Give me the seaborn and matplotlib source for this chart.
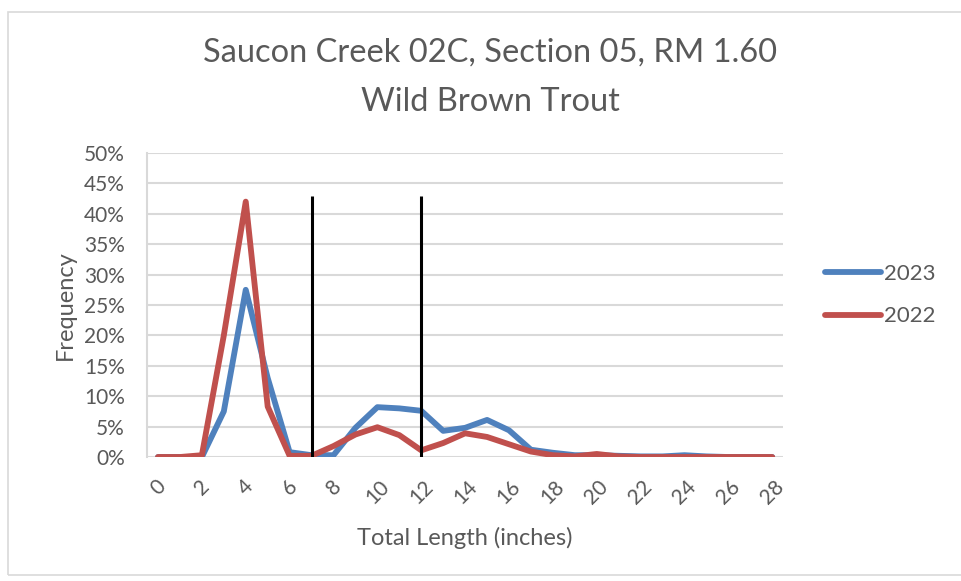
import numpy as np
import pandas as pd
import matplotlib
matplotlib.use('Agg')
import matplotlib.pyplot as plt
import seaborn as sns
from matplotlib.patches import Rectangle
from matplotlib.ticker import PercentFormatter

# Length classes (inches) and frequency per year
lengths = list(range(0, 29))
freq_2023 = [0.0, 0.0, 0.0, 7.5, 27.5, 13.0, 0.8, 0.3, 0.3, 4.8, 8.2, 8.0, 7.6, 4.3,
             4.8, 6.1, 4.4, 1.2, 0.7, 0.3, 0.3, 0.2, 0.1, 0.1, 0.3, 0.1, 0.0, 0.0, 0.0]
freq_2022 = [0.0, 0.0, 0.3, 20.0, 42.0, 8.3, 0.2, 0.2, 1.8, 3.7, 4.9, 3.6, 1.1, 2.3,
             3.9, 3.3, 2.1, 0.9, 0.3, 0.1, 0.5, 0.1, 0.0, 0.0, 0.0, 0.0, 0.0, 0.0, 0.0]
years = ['2023', '2022']
cutoffs = [7, 12]
cutoff_top = 43

df = pd.DataFrame({
    'Length': lengths * 2,
    'Frequency': freq_2023 + freq_2022,
    'Year': ['2023'] * len(lengths) + ['2022'] * len(lengths),
})

sns.set_theme(style='white')
plt.rcParams['font.family'] = ['Lato', 'DejaVu Sans']
grey = '#595959'

fig = plt.figure(figsize=(9.61, 5.81), dpi=100)
ax = fig.add_axes([0.153, 0.2134, 0.662, 0.5233])

sns.lineplot(data=df, x='Length', y='Frequency', hue='Year', hue_order=years,
             palette={'2023': '#4F81BD', '2022': '#C0504D'}, linewidth=4.2,
             ax=ax, legend=True)
ax.vlines(cutoffs, 0, cutoff_top, colors='black', linewidth=2.2, zorder=5)

ax.set_xlim(-0.5, 28.5)
ax.set_ylim(0, 50)
ax.set_yticks(np.arange(0, 51, 5))
ax.yaxis.set_major_formatter(PercentFormatter(decimals=0))
ax.set_xticks(lengths[::2])
ax.set_xticklabels([str(v) for v in lengths[::2]], rotation=45, ha='center')
ax.tick_params(axis='both', colors=grey, labelsize=15, length=0)
ax.tick_params(axis='x', pad=14)
ax.tick_params(axis='y', pad=16)
ax.grid(axis='y', color='#D9D9D9', linewidth=1.5)
ax.set_axisbelow(True)
for s in ['top', 'right', 'bottom']:
    ax.spines[s].set_visible(False)
ax.spines['left'].set_color('#D9D9D9')
ax.spines['left'].set_linewidth(1.5)

ax.set_xlabel('Total Length (inches)', color=grey, fontsize=17, labelpad=14)
ax.set_ylabel('Frequency', color=grey, fontsize=17, labelpad=6)

fig.suptitle('Saucon Creek 02C, Section 05, RM 1.60\nWild Brown Trout',
             x=0.51, y=0.935, color=grey, fontsize=23.5, linespacing=1.8)

leg = ax.legend(loc='upper left', bbox_to_anchor=(1.035, 0.70), frameon=False,
                fontsize=16, handlelength=2.5, handletextpad=0.15, labelspacing=1.0)
for t in leg.get_texts():
    t.set_color(grey)

fig.patches.append(Rectangle((0.008, 0.01), 1.2, 0.97, transform=fig.transFigure,
                             fill=False, edgecolor='#D9D9D9', linewidth=1.2))

fig.savefig('out.png', dpi=100)
